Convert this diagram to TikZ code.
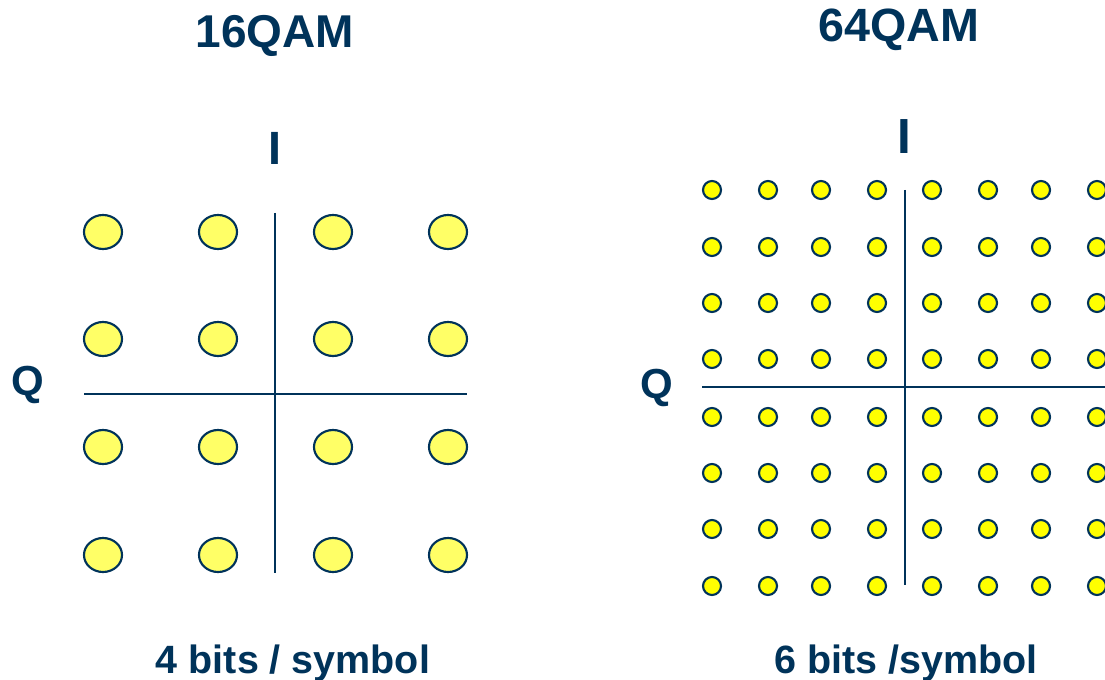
\documentclass[tikz,border=0pt]{standalone}
\usepackage{fontspec}
\setmainfont{Liberation Sans}
\usetikzlibrary{shapes.geometric}
\definecolor{navy}{HTML}{00335A}
\definecolor{paleyel}{HTML}{FFFF66}
\definecolor{puryel}{HTML}{FFFF00}
\tikzset{
  lbl/.style={text=navy, anchor=base, inner sep=0pt, outer sep=0pt},
  bigdot/.style={ellipse, draw=navy, fill=paleyel, line width=1.6pt, inner sep=0pt,
    minimum width=28.5pt, minimum height=25.5pt},
  smalldot/.style={circle, draw=navy, fill=puryel, line width=1.6pt, inner sep=0pt,
    minimum size=13.5pt},
  axis/.style={draw=navy, line width=1.5pt},
}
\begin{document}
\begin{tikzpicture}[x=0.75pt, y=-0.75pt]
\useasboundingbox (0,0) rectangle (1105,680);
\clip (0,0) rectangle (1105,680);
\fill[white] (0,0) rectangle (1105,680);
% ---------- 16QAM ----------
\node[lbl, font=\fontsize{34.5pt}{41pt}\bfseries\selectfont] (t16) at (275,48) {16QAM};
\node[lbl, font=\fontsize{35pt}{42pt}\bfseries\selectfont] (i16) at (275,165) {I};
\node[lbl, font=\fontsize{31.5pt}{38pt}\bfseries\selectfont] (q16) at (28,395) {Q};
\node[lbl, font=\fontsize{29.6pt}{36pt}\bfseries\selectfont] (b16) at (293,673) {4 bits / symbol};
\coordinate (v16t) at (275,213);
\coordinate (v16b) at (275,573);
\coordinate (h16l) at (84,394);
\coordinate (h16r) at (467,394);
\draw[axis] (v16t) -- (v16b);
\draw[axis] (h16l) -- (h16r);
\foreach \x [count=\i] in {103,218,333,448}{
  \foreach \y [count=\j] in {232,339,447,555}{
    \node[bigdot] (d16-\i-\j) at (\x,\y) {};
  }
}
% ---------- 64QAM ----------
\node[lbl, font=\fontsize{35pt}{42pt}\bfseries\selectfont] (t64) at (899,42) {64QAM};
\node[lbl, font=\fontsize{37pt}{44pt}\bfseries\selectfont] (i64) at (904,154) {I};
\node[lbl, font=\fontsize{31.5pt}{38pt}\bfseries\selectfont] (q64) at (657,398) {Q};
\node[lbl, font=\fontsize{29.6pt}{36pt}\bfseries\selectfont] (b64) at (906,673) {6 bits /symbol};
\coordinate (v64t) at (905,190);
\coordinate (v64b) at (905,585);
\coordinate (h64l) at (702,387);
\coordinate (h64r) at (1110,387);
\draw[axis] (v64t) -- (v64b);
\draw[axis] (h64l) -- (h64r);
\foreach \x [count=\i] in {712,768,821,877,932,988,1041,1097}{
  \foreach \y [count=\j] in {190,247,303,359,417,473,529,586}{
    \node[smalldot] (d64-\i-\j) at (\x,\y) {};
  }
}
\end{tikzpicture}
\end{document}
